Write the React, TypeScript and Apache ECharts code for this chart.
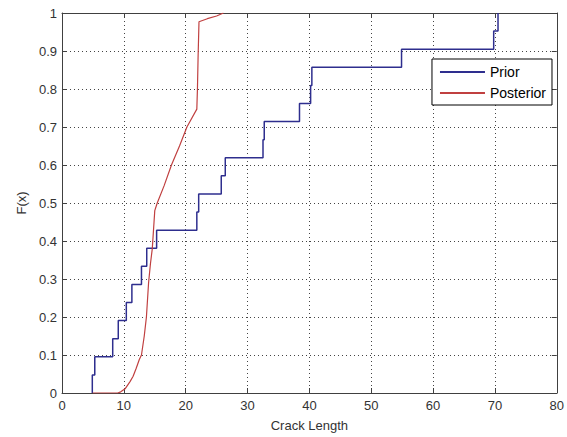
import React, { useEffect, useRef } from "react";
import * as echarts from "echarts";

// Prior: sorted sample values of the empirical CDF (21 samples, step 1/21)
const priorSamples = [
  4.9, 5.3, 8.2, 9.1, 10.4, 11.3, 12.85, 13.7, 15.3, 21.8, 22.1, 25.75, 26.4,
  32.5, 32.7, 38.4, 40.2, 40.4, 54.9, 69.8, 70.5,
];

// Posterior: smooth CDF
const posteriorX = [
  4.95, 9.0, 9.5, 10.2, 11.0, 11.5, 12.0, 12.5, 12.85, 13.3, 13.65, 14.0, 14.3,
  14.6, 14.8, 15.0, 15.4, 16.5, 17.7, 19.0, 20.2, 21.8, 21.9, 22.0, 22.15, 23.5,
  25.0, 26.1,
];
const posteriorF = [
  0, 0, 0.003, 0.011, 0.03, 0.044, 0.065, 0.088, 0.1, 0.15, 0.2, 0.29, 0.34,
  0.38, 0.43, 0.48, 0.5, 0.545, 0.6, 0.65, 0.7, 0.747, 0.8, 0.88, 0.977, 0.985,
  0.992, 1.0,
];

const seriesNames = ["Prior", "Posterior"];
const xLabel = "Crack Length";
const yLabel = "F(x)";

export default function App() {
  const ref = useRef<HTMLDivElement>(null);

  useEffect(() => {
    if (!ref.current) return;
    const chart = echarts.init(ref.current, null, { renderer: "svg" });
    const n = priorSamples.length;
    const priorData: number[][] = [[priorSamples[0], 0]].concat(
      priorSamples.map((x, i) => [x, (i + 1) / n])
    );
    const postData = posteriorX.map((x, i) => [x, posteriorF[i]]);
    const font = "'Liberation Sans', Arial, Helvetica, sans-serif";
    const axisColor = "#404040";
    const gridLine = { show: true, lineStyle: { color: "#444", type: [1, 3] as any, width: 1 } };

    chart.setOption({
      animation: false,
      backgroundColor: "#fff",
      textStyle: { fontFamily: font },
      grid: { left: 62, right: 9, top: 13, bottom: 40, show: false },
      legend: {
        orient: "vertical",
        right: 15,
        top: 59,
        data: seriesNames,
        backgroundColor: "#fff",
        borderColor: "#000",
        borderWidth: 1,
        borderRadius: 0,
        padding: [6, 6, 5, 8],
        itemGap: 7,
        itemWidth: 45,
        itemHeight: 2,
        icon: "rect",
        textStyle: { fontSize: 14, color: "#000", fontFamily: font, padding: [0, 0, 0, 0] },
      },
      xAxis: [
        {
          type: "value",
          min: 0,
          max: 80,
          interval: 10,
          name: xLabel,
          nameLocation: "middle",
          nameGap: 26,
          nameTextStyle: { fontSize: 13, color: "#333", fontFamily: font },
          axisLine: { show: true, onZero: false, lineStyle: { color: axisColor, width: 1 } },
          axisTick: { show: true, inside: true, length: 5, lineStyle: { color: axisColor } },
          axisLabel: { fontSize: 13, color: "#333", margin: 6, fontFamily: font },
          splitLine: gridLine,
        },
        {
          type: "value",
          position: "top",
          min: 0,
          max: 80,
          interval: 10,
          axisLine: { show: true, onZero: false, lineStyle: { color: axisColor, width: 1 } },
          axisTick: { show: true, inside: true, length: 5, lineStyle: { color: axisColor } },
          axisLabel: { show: false },
          splitLine: { show: false },
        },
      ],
      yAxis: [
        {
          type: "value",
          min: 0,
          max: 1,
          interval: 0.1,
          name: yLabel,
          nameLocation: "middle",
          nameGap: 34,
          nameTextStyle: { fontSize: 13, color: "#333", fontFamily: font },
          axisLine: { show: true, onZero: false, lineStyle: { color: axisColor, width: 1 } },
          axisTick: { show: true, inside: true, length: 5, lineStyle: { color: axisColor } },
          axisLabel: {
            fontSize: 13,
            color: "#333",
            margin: 5,
            fontFamily: font,
            formatter: (v: number) => String(Math.round(v * 10) / 10),
          },
          splitLine: gridLine,
        },
        {
          type: "value",
          position: "right",
          min: 0,
          max: 1,
          interval: 0.1,
          axisLine: { show: true, onZero: false, lineStyle: { color: axisColor, width: 1 } },
          axisTick: { show: true, inside: true, length: 5, lineStyle: { color: axisColor } },
          axisLabel: { show: false },
          splitLine: { show: false },
        },
      ],
      series: [
        {
          name: seriesNames[0],
          type: "line",
          step: "end",
          data: priorData,
          showSymbol: false,
          symbol: "none",
          lineStyle: { color: "#2e2e8e", width: 1.5 },
          itemStyle: { color: "#2e2e8e" },
          z: 3,
        },
        {
          name: seriesNames[1],
          type: "line",
          data: postData,
          showSymbol: false,
          symbol: "none",
          lineStyle: { color: "#c04040", width: 1.2 },
          itemStyle: { color: "#c04040" },
          z: 4,
        },
      ],
    });
    return () => chart.dispose();
  }, []);

  return (
    <div
      ref={ref}
      style={{ position: "fixed", left: 0, top: 0, width: 567, height: 437, background: "#fff" }}
    />
  );
}
